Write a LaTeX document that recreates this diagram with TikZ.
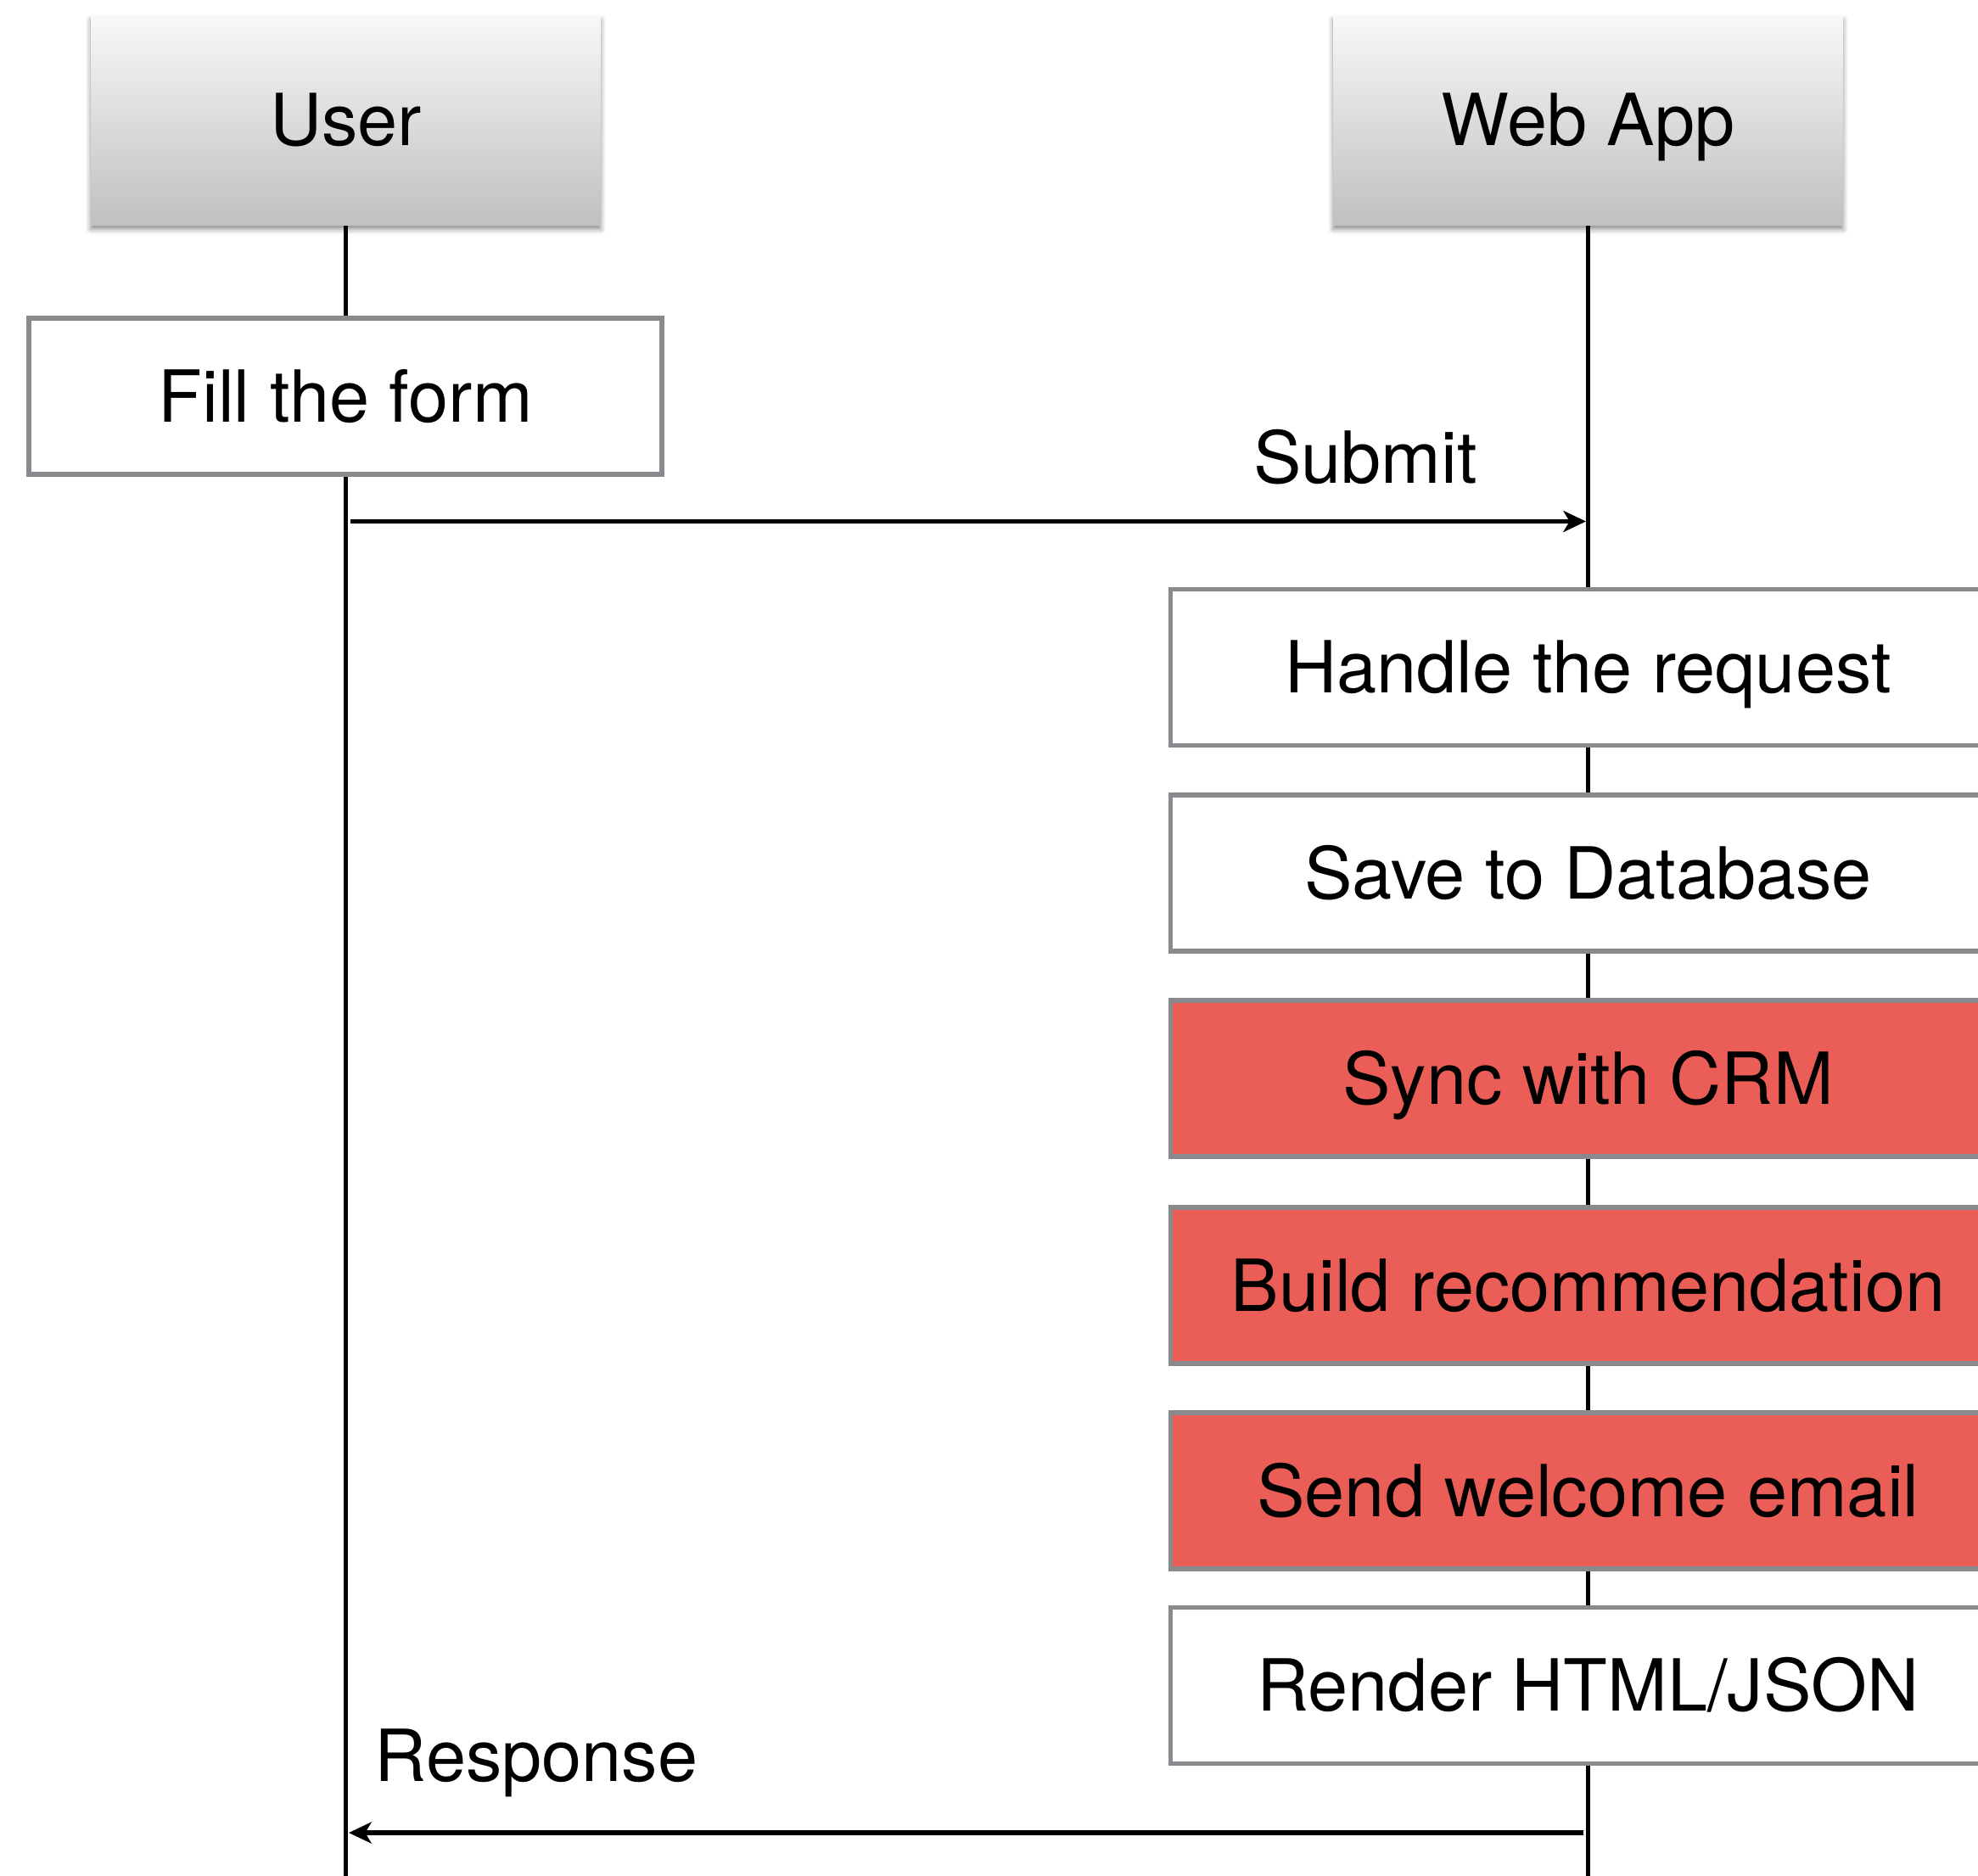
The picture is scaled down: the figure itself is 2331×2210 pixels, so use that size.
\documentclass[tikz,border=0pt]{standalone}
\usepackage{fontspec}
\setmainfont{TeX Gyre Heros}
\usetikzlibrary{arrows.meta,shadows.blur}
\definecolor{boxgray}{RGB}{137,138,142}
\definecolor{crmred}{RGB}{235,94,88}
\definecolor{hdtop}{RGB}{248,248,248}
\definecolor{hdbot}{RGB}{192,192,192}
\begin{document}
\begin{tikzpicture}[x=0.3pt,y=-0.3pt,
  lbl/.style={font=\fontsize{25.4}{30}\selectfont, text height=18.25pt, text depth=0pt, inner sep=0pt},
  header/.style={lbl, minimum width=180.3pt, minimum height=74.1pt, top color=hdtop, bottom color=hdbot,
     blur shadow={shadow xshift=0pt, shadow yshift=-1.6pt, shadow blur radius=1.8pt, shadow opacity=45}},
  stepbox/.style={lbl, draw=boxgray, line width=1.6pt, fill=white, minimum width=295.2pt, minimum height=55.2pt},
  hot/.style={stepbox, fill=crmred},
  life/.style={line width=1.65pt, black},
  msg/.style={line width=1.6pt, black, -{Stealth[length=8pt,width=7.5pt,inset=2.2pt]}}
]
\useasboundingbox (0,0) rectangle (2331,2210);
\clip (0,0) rectangle (2331,2210);

% headers
\node[header] (user) at (407.5,141.5) {User};
\node[header] (web) at (1871.5,141.5) {Web App};

% lifeline ends
\coordinate (userend) at (407.5,2215);
\coordinate (webend) at (1871.5,2215);
\draw[life] (user.south) -- (userend);
\draw[life] (web.south) -- (webend);

% user activity
\node[stepbox, minimum width=223.8pt] (fill) at (407,467) {Fill the form};

% submit message
\coordinate (s1) at (413,614.5);
\coordinate (s2) at (1869,614.5);
\draw[msg] (s1) -- (s2);
\node[lbl, anchor=base, text height=, text depth=] (submit) at (1609,569) {Submit};

% web app steps
\node[stepbox] (handle) at (1871.5,786.5) {Handle the request};
\node[stepbox] (save) at (1871.5,1029) {Save to Database};
\node[hot] (sync) at (1871.5,1271) {Sync with CRM};
\node[hot] (build) at (1871.5,1515) {Build recommendation};
\node[hot] (send) at (1871.5,1757) {Send welcome email};
\node[stepbox] (render) at (1871.5,1986.5) {Render HTML/JSON};

% response message
\node[lbl, anchor=base, text height=, text depth=] (resp) at (632,2099) {Response};
\coordinate (r1) at (1866,2160);
\coordinate (r2) at (411,2160);
\draw[msg] (r1) -- (r2);
\end{tikzpicture}
\end{document}
